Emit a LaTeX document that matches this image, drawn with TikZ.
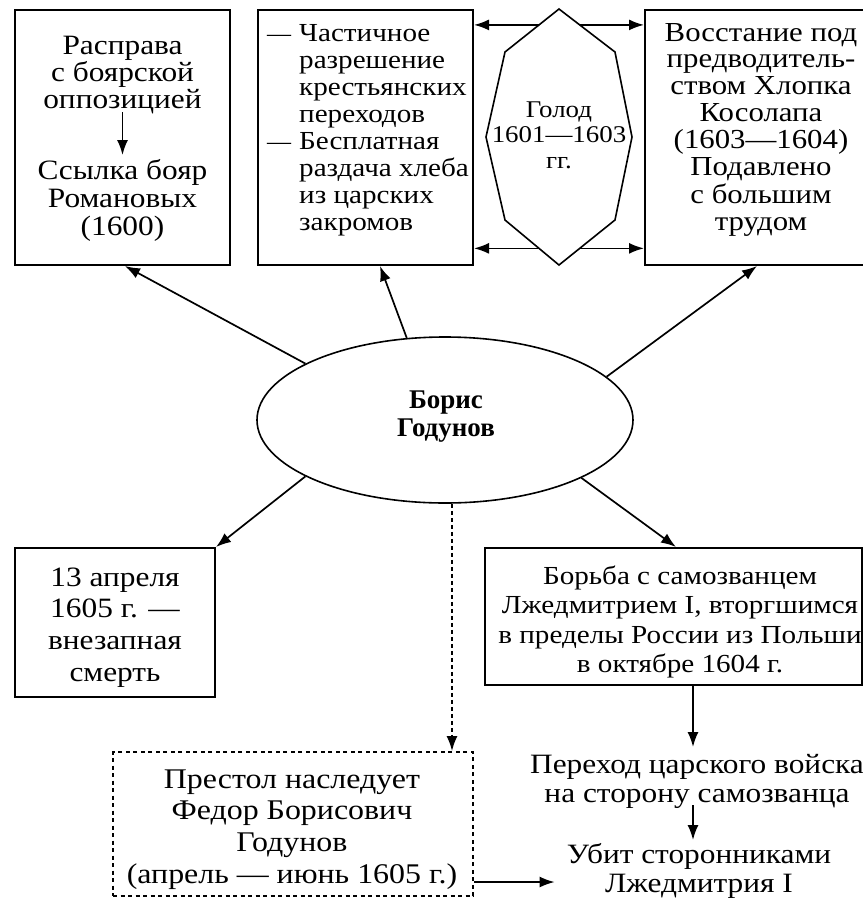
\documentclass[tikz,border=0pt]{standalone}
\usepackage{fontspec}
\setmainfont{Liberation Serif}[FakeStretch=1.12]
\newfontfamily\plainserif{Liberation Serif}
\usetikzlibrary{arrows.meta,shapes.geometric,calc}
\newcommand{\mylines}[2]{{\renewcommand{\arraystretch}{1}\begin{tabular}{@{}#1@{}}#2\end{tabular}}}
\newcommand{\itemdash}{{\plainserif\fontsize{24}{27}\selectfont —}}
\begin{document}
\begin{tikzpicture}[x=1pt,y=-1pt,
  box/.style={draw, line width=2pt, inner sep=0pt},
  dbox/.style={draw, line width=1.8pt, dash pattern=on 4pt off 3.5pt, inner sep=0pt},
  txt/.style={inner sep=0pt, anchor=north},
  arr/.style={line width=1.7pt, -{Latex[length=15pt,width=11pt]}},
  darr/.style={line width=1.8pt, dash pattern=on 4pt off 3pt, -{Latex[length=15pt,width=11pt]}},
]
\useasboundingbox (0,0) rectangle (863,898);
\clip (0,0) rectangle (863,898);

% top boxes
\node[box, minimum width=215pt, minimum height=255pt] (b1) at (122.5,137.5) {};
\node[box, minimum width=215pt, minimum height=255pt] (b2) at (365.5,137.5) {};
\node[box, minimum width=235pt, minimum height=255pt] (b3) at (762.5,137.5) {};

\node[txt, font=\fontsize{28}{25}\selectfont] (b1a) at (122.5,35.5)
  {\mylines{c}{Расправа\\с боярской\\оппозицией}};
\node[txt, font=\fontsize{28}{28}\selectfont] (b1b) at (122.5,159.4)
  {\mylines{c}{Ссылка бояр\\Романовых\\(1600)}};
\draw[arr, shorten <=-3.5pt, shorten >=4.4pt] (b1a.south) -- (b1b.north);

\node[txt, anchor=north west, font=\fontsize{26}{27}\selectfont] (b2t) at (267,22.1)
  {\mylines{l@{\hspace{8pt}}l}{\itemdash&Частичное\\&разрешение\\&крестьянских\\&переходов\\\itemdash&Бесплатная\\&раздача хлеба\\&из царских\\&закромов}};

\node[txt, font=\fontsize{27.5}{26.8}\selectfont] (b3t) at (761,22.2)
  {\mylines{c}{Восстание под\\предводитель-\\ством Хлопка\\Косолапа\\(1603—1604)\\Подавлено\\с большим\\трудом}};

% octagon
\coordinate (oT) at (559,9);
\coordinate (oUR) at (615,52);
\coordinate (oR) at (632,137);
\coordinate (oLR) at (615,220);
\coordinate (oB) at (559,265);
\coordinate (oLL) at (505,220);
\coordinate (oL) at (486,137);
\coordinate (oUL) at (505,52);
\draw[line width=1.6pt, fill=white] (oT) -- (oUR) -- (oR) -- (oLR) -- (oB) -- (oLL) -- (oL) -- (oUL) -- cycle;
\node[txt, font=\fontsize{24}{25.5}\selectfont] (gol) at (559,99.2)
  {\mylines{c}{Голод\\1601—1603\\гг.}};
\coordinate (g1) at ($(oT)!0.37!(oUL)$);
\coordinate (g2) at ($(oT)!0.37!(oUR)$);
\coordinate (g3) at ($(oB)!0.37!(oLL)$);
\coordinate (g4) at ($(oB)!0.37!(oLR)$);
\draw[arr] (g1) -- (g1 -| b2.east);
\draw[arr] (g2) -- (g2 -| b3.west);
\draw[arr] (g3) -- (g3 -| b2.east);
\draw[arr] (g4) -- (g4 -| b3.west);

% ellipse
\node[draw, ellipse, line width=1.6pt, minimum width=376pt, minimum height=166pt, inner sep=0pt] (ell) at (445,420) {};
\node[txt, font=\fontsize{27}{28}\plainserif\bfseries] (bg) at (446,388.4)
  {\mylines{c}{Борис\\Годунов}};

\draw[arr] (ell.158) -- ($(b1.south)+(2.5,0)$);
\draw[arr] (ell.115) -- ($(b2.south)+(14.5,0)$);
\draw[arr] (ell.15) -- ($(b3.south)+(-5.5,0)$);

% bottom boxes
\node[box, minimum width=200pt, minimum height=149pt] (b4) at (115,622.5) {};
\node[txt, font=\fontsize{28}{31.7}\selectfont] (b4t) at (115,563.8)
  {\mylines{c}{13 апреля\\1605 г. —\\внезапная\\смерть}};

\node[box, minimum width=377pt, minimum height=137pt] (b5) at (673.5,616.5) {};
\node[txt, font=\fontsize{26}{29.5}\selectfont] (b5t) at (680,563.4)
  {\mylines{c}{Борьба с самозванцем\\Лжедмитрием I, вторгшимся\\в пределы России из Польши\\в октябре 1604 г.}};

\node[dbox, minimum width=360pt, minimum height=144pt] (b6) at (293,824) {};
\node[txt, font=\fontsize{28.5}{31.7}\selectfont] (b6t) at (292,765.8)
  {\mylines{c}{Престол наследует\\Федор Борисович\\Годунов\\(апрель — июнь 1605 г.)}};

\draw[arr] (ell.202) -- (b4.north east);
\draw[arr] (ell.-23) -- ($(b5.north)+(2.5,0)$);
\draw[darr] ($(ell.south)+(7,0)$) -- ($(b6.north)+(159,0)$);

% right chain
\node[txt, font=\fontsize{28}{29}\selectfont] (t1) at (697,752.7)
  {\mylines{c}{Переход царского войска\\на сторону самозванца}};
\node[txt, font=\fontsize{28}{29}\selectfont] (t2) at (699,842.7)
  {\mylines{c}{Убит сторонниками\\Лжедмитрия I}};

\draw[arr, shorten >=5.7pt] ($(t1.north |- b5.south)+(-4,0)$) -- ($(t1.north)+(-4,0)$);
\draw[arr, shorten <=-5.7pt, shorten >=2.7pt] ($(t1.south)+(-4,0)$) -- ($(t2.north)+(-6,0)$);
\draw[arr, shorten >=12pt] ($(b6.east)+(0,58)$) -- ($(b6.east -| t2.west)+(0,58)$);
\end{tikzpicture}
\end{document}
